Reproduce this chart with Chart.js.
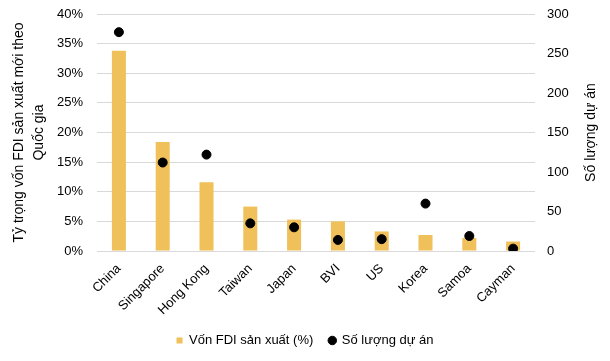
<!DOCTYPE html>
<html lang="vi">
<head>
<meta charset="UTF-8" />
<title>FDI theo quốc gia</title>
<script src="https://cdn.jsdelivr.net/npm/chart.js"></script>
<style>
    html, body { margin: 0; padding: 0; background: #fff; }
    #wrap { width: 610px; height: 361px; }
</style>
</head>
<body>
<div id="wrap"><canvas id="chart" width="610" height="361"></canvas></div>
<script>
    // dữ liệu
    const countries = ["China", "Singapore", "Hong Kong", "Taiwan", "Japan", "BVI", "US", "Korea", "Samoa", "Cayman"];
    const capitalShare = [33.8, 18.4, 11.6, 7.5, 5.3, 5.0, 3.3, 2.7, 2.2, 1.6];
    const projectCount = [277, 112, 122, 35, 30, 14, 15, 60, 19, 3];
    const rightTitle = "Số lượng dự án";

    const fontFamily = "'Liberation Sans', Arial, sans-serif";
    const font = { family: fontFamily, size: 13 };
    const gridColor = "#d9d9d9";
    const clear = "rgba(0,0,0,0)";

    // tiêu đề trục phải, đọc từ dưới lên
    const rightTitlePlugin = {
        id: "rightTitle",
        afterDraw(chart) {
            const ctx = chart.ctx;
            const area = chart.chartArea;
            ctx.save();
            ctx.translate(591, (area.top + area.bottom) / 2);
            ctx.rotate(-Math.PI / 2);
            ctx.font = "14px " + fontFamily;
            ctx.fillStyle = "#000";
            ctx.textAlign = "center";
            ctx.textBaseline = "middle";
            ctx.fillText(rightTitle, 0, 0);
            ctx.restore();
        }
    };

    new Chart(document.getElementById("chart"), {
        data: {
            labels: countries,
            datasets: [
                {
                    type: "line",
                    label: "Số lượng dự án",
                    data: projectCount,
                    yAxisID: "y1",
                    showLine: false,
                    pointStyle: "circle",
                    pointRadius: 4.5,
                    pointBackgroundColor: "#000",
                    pointBorderColor: "#000",
                    order: 0
                },
                {
                    type: "bar",
                    label: "Vốn FDI sản xuất (%)",
                    data: capitalShare,
                    yAxisID: "y",
                    backgroundColor: "#f0c05a",
                    barPercentage: 0.64,
                    categoryPercentage: 0.5,
                    pointStyle: "rect",
                    order: 1
                }
            ]
        },
        options: {
            responsive: false,
            animation: false,
            layout: { autoPadding: false, padding: { top: 14, left: 0, right: 0, bottom: 4 } },
            plugins: {
                tooltip: { enabled: false },
                legend: {
                    position: "bottom",
                    reverse: true,
                    labels: {
                        usePointStyle: true,
                        boxWidth: 6,
                        boxHeight: 6,
                        color: "#000",
                        font: font,
                        padding: 16
                    }
                }
            },
            scales: {
                x: {
                    grid: { display: false },
                    border: { display: false },
                    ticks: { color: "#000", font: font, maxRotation: 45, minRotation: 45, padding: 2 },
                    afterFit: s => { s.height = 67; }
                },
                y: {
                    position: "left",
                    min: 0, max: 40,
                    ticks: { stepSize: 5, color: "#000", font: font, padding: 0, callback: v => v + "%" },
                    grid: { color: gridColor, drawTicks: true, tickLength: 14, tickColor: clear },
                    border: { display: false },
                    title: {
                        display: true,
                        text: ["Tỷ trọng vốn FDI sản xuất mới theo", "Quốc gia"],
                        color: "#000",
                        font: { family: fontFamily, size: 14, lineHeight: 1.45 },
                        padding: { top: 9, bottom: 0 }
                    },
                    afterFit: s => { s.width = 97; }
                },
                y1: {
                    position: "right",
                    min: 0, max: 300,
                    ticks: { stepSize: 50, color: "#000", font: font, padding: 0 },
                    grid: { display: false, drawTicks: true, tickLength: 12, tickColor: clear },
                    border: { display: false },
                    afterFit: s => { s.width = 75; }
                }
            }
        },
        plugins: [rightTitlePlugin]
    });
</script>
</body>
</html>
